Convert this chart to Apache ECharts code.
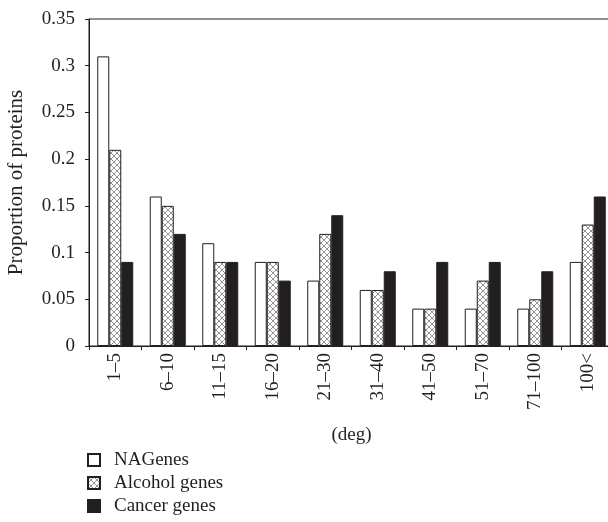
<!DOCTYPE html>
<html><head><meta charset="utf-8">
<script src="https://cdn.jsdelivr.net/npm/echarts@6/dist/echarts.min.js"></script>
<style>html,body{margin:0;padding:0;background:#fff}#c{width:608px;height:522px}</style>
</head><body><div id="c"></div>
<script>
const categories = ['1–5','6–10','11–15','16–20','21–30','31–40','41–50','51–70','71–100','100<'];
const naGenes = [0.31,0.16,0.11,0.09,0.07,0.06,0.04,0.04,0.04,0.09];
const alcoholGenes = [0.21,0.15,0.09,0.09,0.12,0.06,0.04,0.07,0.05,0.13];
const cancerGenes = [0.09,0.12,0.09,0.07,0.14,0.08,0.09,0.09,0.08,0.16];
const yTicks = [0,0.05,0.1,0.15,0.2,0.25,0.3,0.35];

const txt = '#231f20';
const font = 'Liberation Serif';
const fs = 19;

const pc = document.createElement('canvas');
pc.width = 6; pc.height = 6;
const g = pc.getContext('2d');
g.fillStyle = '#fff'; g.fillRect(0,0,6,6);
g.strokeStyle = '#7a7a7a'; g.lineWidth = 0.8;
g.beginPath(); g.moveTo(0,0); g.lineTo(6,6); g.moveTo(6,0); g.lineTo(0,6); g.stroke();
const hatch = {image: pc, repeat: 'repeat'};

const chart = echarts.init(document.getElementById('c'), null, {renderer: 'canvas'});
chart.setOption({
  animation: false,
  backgroundColor: '#fff',
  grid: {left: 89, right: -6, top: 19, bottom: 176, show: true, borderColor: txt, borderWidth: 1,
         containLabel: false, outerBoundsMode: 'none'},
  legend: {
    orient: 'vertical', left: 82, top: 450, height: 100, padding: [0,5,0,5],
    itemWidth: 12, itemHeight: 12, itemGap: 3,
    icon: 'rect',
    textStyle: {fontFamily: font, fontSize: fs, color: txt, padding: [0,0,0,9], lineHeight: 20},
    data: ['NAGenes','Alcohol genes','Cancer genes']
  },
  xAxis: {
    type: 'category', data: categories,
    name: '(deg)', nameLocation: 'middle', nameGap: 80,
    nameTextStyle: {fontFamily: font, fontSize: fs, color: txt},
    axisLine: {lineStyle: {color: txt, width: 1}},
    axisTick: {show: true, length: 4, lineStyle: {color: txt}},
    axisLabel: {rotate: 90, margin: 7, fontFamily: font, fontSize: fs, color: txt}
  },
  yAxis: {
    type: 'value', min: 0, max: 0.35, interval: 0.05,
    name: 'Proportion of proteins', nameLocation: 'middle', nameGap: 62,
    nameTextStyle: {fontFamily: font, fontSize: 21, color: txt},
    splitLine: {show: false},
    axisLine: {show: true, lineStyle: {color: txt, width: 1}},
    axisTick: {show: true, length: 4, lineStyle: {color: txt}},
    axisLabel: {margin: 14, fontFamily: font, fontSize: fs, color: txt,
      formatter: v => { const s = yTicks.find(t => Math.abs(t - v) < 1e-9); return String(+(s ?? v).toFixed(2)); }}
  },
  series: [
    {name: 'NAGenes', type: 'bar', data: naGenes, barWidth: 12, barGap: '0%',
     itemStyle: {color: '#fff', borderColor: txt, borderWidth: 1}},
    {name: 'Alcohol genes', type: 'bar', data: alcoholGenes, barWidth: 12, barGap: '0%',
     itemStyle: {color: hatch, borderColor: txt, borderWidth: 1}},
    {name: 'Cancer genes', type: 'bar', data: cancerGenes, barWidth: 12, barGap: '0%',
     itemStyle: {color: txt, borderColor: txt, borderWidth: 1}}
  ]
});
</script></body></html>
